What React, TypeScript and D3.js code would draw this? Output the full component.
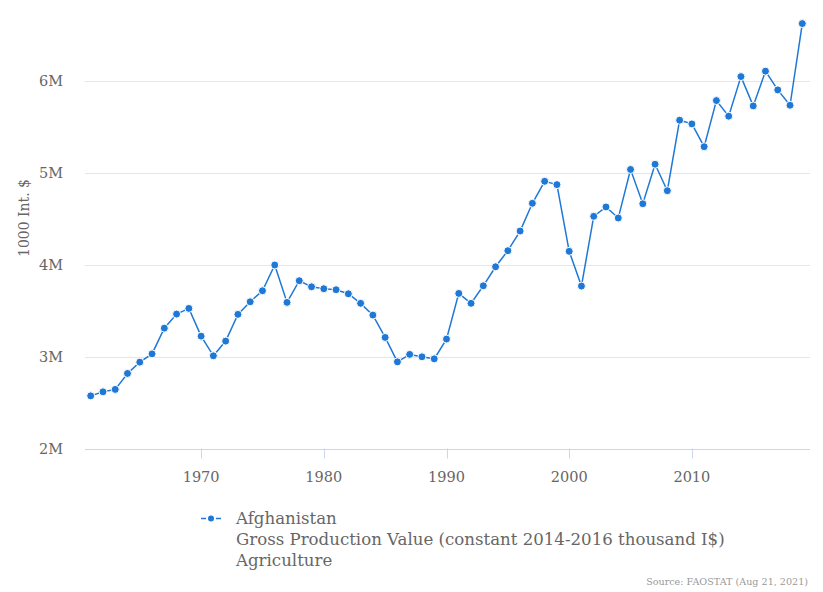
import React from "react";
import * as d3 from "d3";

const years: number[] = [
  1961, 1962, 1963, 1964, 1965, 1966, 1967, 1968, 1969, 1970,
  1971, 1972, 1973, 1974, 1975, 1976, 1977, 1978, 1979, 1980,
  1981, 1982, 1983, 1984, 1985, 1986, 1987, 1988, 1989, 1990,
  1991, 1992, 1993, 1994, 1995, 1996, 1997, 1998, 1999, 2000,
  2001, 2002, 2003, 2004, 2005, 2006, 2007, 2008, 2009, 2010,
  2011, 2012, 2013, 2014, 2015, 2016, 2017, 2018, 2019,
];

// Gross production value, thousand I$
const values: number[] = [
  2573000, 2617000, 2643000, 2817000, 2940000, 3030000, 3310000, 3463000, 3525000, 3223000,
  3009000, 3169000, 3460000, 3597000, 3717000, 3997000, 3590000, 3826000, 3760000, 3739000,
  3728000, 3684000, 3580000, 3452000, 3209000, 2943000, 3024000, 2998000, 2976000, 3191000,
  3688000, 3580000, 3771000, 3978000, 4153000, 4367000, 4669000, 4908000, 4872000, 4146000,
  3768000, 4527000, 4629000, 4509000, 5037000, 4664000, 5094000, 4806000, 5573000, 5533000,
  5285000, 5787000, 5617000, 6048000, 5729000, 6107000, 5903000, 5736000, 6625000,
];

const yTicks: number[] = [2000000, 3000000, 4000000, 5000000, 6000000];
const xTicks: number[] = [1970, 1980, 1990, 2000, 2010];
const legendLines: string[] = [
  "Afghanistan",
  "Gross Production Value (constant 2014-2016 thousand I$)",
  "Agriculture",
];
const yTitle = "1000 Int. $";
const sourceText = "Source: FAOSTAT (Aug 21, 2021)";

const COLOR = "#1f78d6";
const FONT = "'DejaVu Serif', serif";

export default function App() {
  const plotLeft = 85;
  const plotRight = 810;
  const x = d3.scaleLinear().domain([1961, 2019]).range([90.7, 802.3]);
  const y = d3.scaleLinear().domain([2000000, 6000000]).range([448.5, 81]);
  const line = d3
    .line<number>()
    .x((_, i) => x(years[i]))
    .y((d) => y(d));
  const fmt = (v: number) => `${v / 1e6}M`;
  const baseY = y(2000000);

  return (
    <svg
      width={823}
      height={592}
      style={{ position: "absolute", left: 0, top: 0, background: "#fff" }}
      fontFamily={FONT}
    >
      {yTicks.map((t) => (
        <line
          key={t}
          x1={plotLeft}
          x2={plotRight}
          y1={Math.round(y(t)) + 0.5}
          y2={Math.round(y(t)) + 0.5}
          stroke="#e6e6e6"
          strokeWidth={1}
        />
      ))}
      <line x1={plotLeft} x2={plotRight} y1={Math.round(baseY) + 0.5} y2={Math.round(baseY) + 0.5} stroke="#ccd6eb" />
      {xTicks.map((t) => (
        <g key={t}>
          <line
            x1={Math.round(x(t)) + 0.5}
            x2={Math.round(x(t)) + 0.5}
            y1={baseY}
            y2={baseY + 10}
            stroke="#ccd6eb"
          />
          <text x={x(t)} y={482} textAnchor="middle" fontSize={14.5} fill="#666666">
            {t}
          </text>
        </g>
      ))}
      {yTicks.map((t) => (
        <text key={t} x={63} y={y(t) + 5} textAnchor="end" fontSize={14.5} fill="#666666">
          {fmt(t)}
        </text>
      ))}
      <text
        transform={`translate(29,218) rotate(-90)`}
        textAnchor="middle"
        fontSize={14}
        fill="#666666"
      >
        {yTitle}
      </text>
      <path d={line(values) || ""} fill="none" stroke={COLOR} strokeWidth={1.5} />
      {values.map((v, i) => (
        <circle key={i} cx={x(years[i])} cy={y(v)} r={4} fill={COLOR} stroke="#fff" strokeWidth={1} />
      ))}
      <g>
        <line x1={201} x2={221} y1={518.5} y2={518.5} stroke={COLOR} strokeWidth={1.5} />
        <circle cx={211} cy={518.5} r={4} fill={COLOR} stroke="#fff" strokeWidth={2} />
        {legendLines.map((s, i) => (
          <text key={i} x={236} y={524 + i * 21} fontSize={16.6} fill="#666666">
            {s}
          </text>
        ))}
      </g>
      <text x={808} y={585} textAnchor="end" fontSize={9.6} fill="#999999">
        {sourceText}
      </text>
    </svg>
  );
}
